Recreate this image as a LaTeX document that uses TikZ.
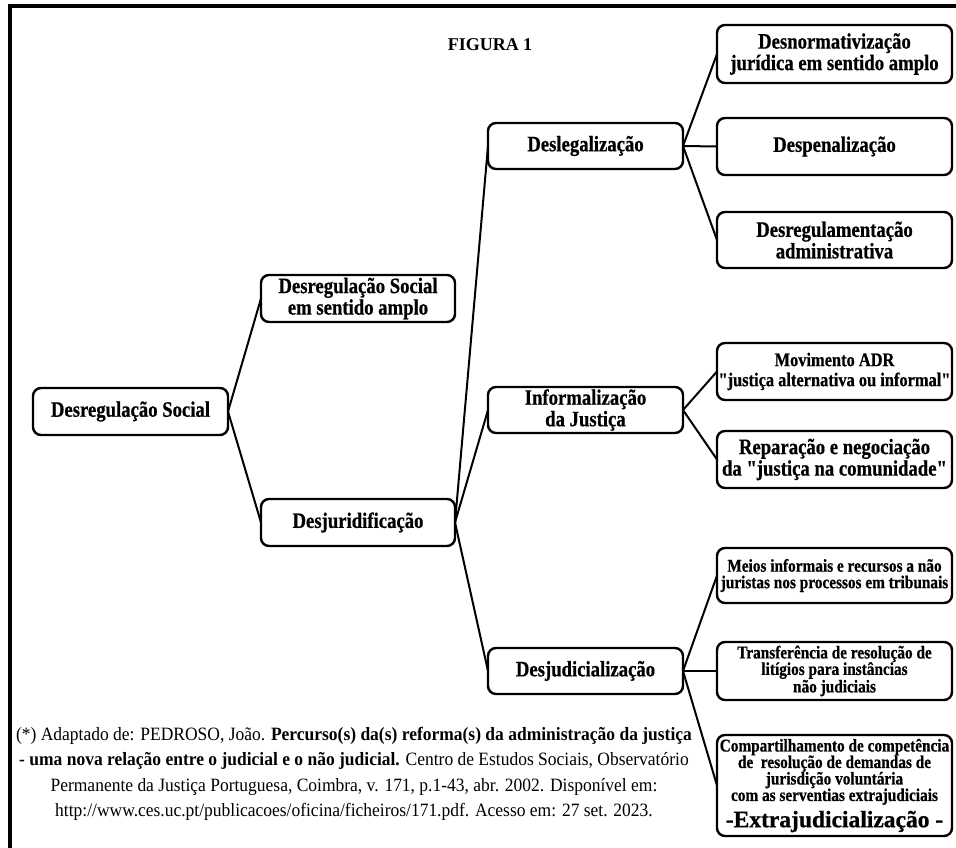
\documentclass[tikz,border=0pt]{standalone}
\usepackage{fontspec}
\setmainfont{Liberation Serif}
\newfontfamily\condB[FakeStretch=0.85,FakeBold=0.6]{Liberation Serif}
\newfontfamily\condN[FakeStretch=0.93]{Liberation Serif}
\newfontfamily\extraF[FakeBold=0.9]{Liberation Serif}
\begin{document}
\begin{tikzpicture}[x=1pt,y=-1pt,
  box/.style={draw, line width=2.4pt, rounded corners=8pt, inner sep=0pt, outer sep=0pt,
    align=center, font=\condB\bfseries\fontsize{22}{21.5}\selectfont},
  sbox/.style={box, font=\condB\bfseries\fontsize{18}{16.5}\selectfont},
  link/.style={line width=2pt},
  lw/.style={minimum width=195pt},
  rw/.style={minimum width=235pt}]
\useasboundingbox (0,0) rectangle (956,848);
\fill[white] (0,0) rectangle (956,848);
\draw[line width=4.5pt] (10,850) -- (10,6) -- (958,6);

\node[font=\bfseries\fontsize{18}{18}\selectfont] (fig) at (490,45) {FIGURA 1};

\node[box, lw, minimum height=47pt] (ds) at (130.5,411.5) {Desregulação Social};
\node[box, minimum width=194pt, minimum height=47pt] (amplo) at (358,298.5) {Desregulação Social\\em sentido amplo};
\node[box, minimum width=194pt, minimum height=47pt] (desjur) at (358,522.5) {Desjuridificação};

\node[box, lw, minimum height=46pt] (desleg) at (585.5,146) {Deslegalização};
\node[box, lw, minimum height=46pt] (inform) at (585.5,410) {Informalização\\da Justiça};
\node[box, lw, minimum height=46pt] (desjud) at (585.5,671) {Desjudicialização};

\node[box, rw, minimum height=58pt] (desnorm) at (834.5,54) {Desnormativização\\jurídica em sentido amplo};
\node[box, rw, minimum height=57pt] (despen) at (834.5,146.5) {Despenalização};
\node[box, rw, minimum height=56pt] (desregul) at (834.5,240) {Desregulamentação\\administrativa};
\node[box, rw, minimum height=57pt, font=\condB\bfseries\fontsize{19.3}{20}\selectfont] (mov) at (834.5,371.5) {Movimento ADR\\"justiça alternativa ou informal"};
\node[box, rw, minimum height=57pt] (rep) at (834.5,459.5) {Reparação e negociação\\da "justiça na comunidade"};
\node[sbox, rw, minimum height=55pt] (meios) at (834.5,575.5) {Meios informais e recursos a não\\juristas nos processos em tribunais};
\node[sbox, rw, minimum height=58pt] (transf) at (834.5,671) {Transferência de resolução de\\litígios para instâncias\\não judiciais};
\node[sbox, rw, minimum height=101pt] (compart) at (834.5,785.5) {Compartilhamento de competência\\de\ \ resolução de demandas de\\jurisdição voluntária\\com as serventias extrajudiciais\\[5pt]{\extraF\fontsize{23.5}{24}\selectfont -Extrajudicialização -}};

\node[align=center, font=\condN\fontsize{18.8}{25.5}\selectfont] (note) at (354,774) {(*) Adaptado de: PEDROSO, João. \textbf{Percurso(s) da(s) reforma(s) da administração da justiça}\\
\textbf{- uma nova relação entre o judicial e o não judicial.} Centro de Estudos Sociais, Observatório\\
Permanente da Justiça Portuguesa, Coimbra, v. 171, p.1-43, abr. 2002. Disponível em:\\
http://www.ces.uc.pt/publicacoes/oficina/ficheiros/171.pdf. Acesso em: 27 set. 2023.};

\draw[link] (ds.east) -- (amplo.west);
\draw[link] (ds.east) -- (desjur.west);
\draw[link] (desjur.east) -- (desleg.west);
\draw[link] (desjur.east) -- (inform.west);
\draw[link] (desjur.east) -- (desjud.west);
\draw[link] (desleg.east) -- (desnorm.west);
\draw[link] (desleg.east) -- (despen.west);
\draw[link] (desleg.east) -- (desregul.west);
\draw[link] (inform.east) -- (mov.west);
\draw[link] (inform.east) -- (rep.west);
\draw[link] (desjud.east) -- (meios.west);
\draw[link] (desjud.east) -- (transf.west);
\draw[link] (desjud.east) -- (compart.west);
\end{tikzpicture}
\end{document}
